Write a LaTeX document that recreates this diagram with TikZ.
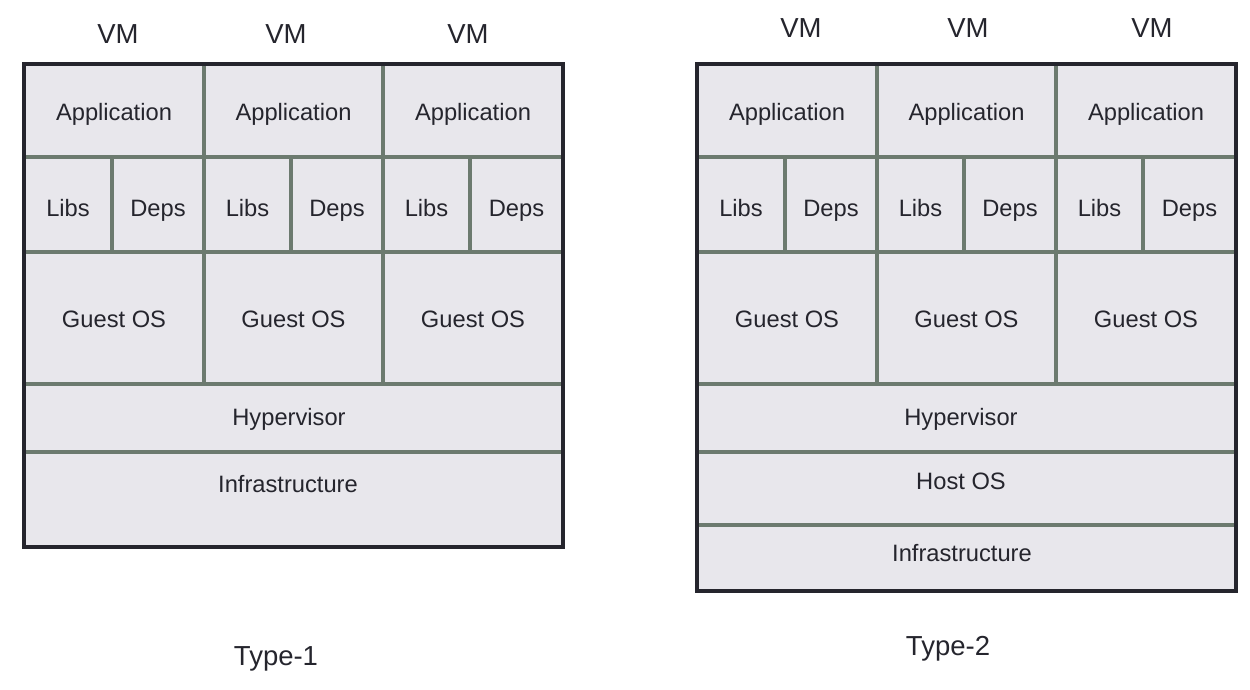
\documentclass[tikz,border=0pt]{standalone}
\usepackage{fontspec}
\setmainfont{Liberation Sans}
\definecolor{cellfill}{HTML}{E8E7EC}
\definecolor{cellline}{HTML}{6C7A6F}
\definecolor{frameline}{HTML}{25252D}
\definecolor{labeltext}{HTML}{25252D}
\begin{document}
\begin{tikzpicture}[x=1pt,y=-1pt,
        cell/.style={fill=cellfill,draw=cellline,line width=3.3pt},
        frame/.style={draw=frameline,line width=3.6pt},
        lbl/.style={anchor=base,inner sep=0pt,text=labeltext,font=\fontsize{23.7}{28}\selectfont},
        head/.style={anchor=base,inner sep=0pt,text=labeltext,font=\fontsize{27.5}{32}\selectfont}]
    \useasboundingbox (0,0) rectangle (1250,690);
    % type-1
    \foreach \a/\m/\b/\v/\n in {24/112/204/118/1,204/291/383/286/2,383/470/563/468/3} {
        \draw[cell] (\a,64) rectangle (\b,157);
        \draw[cell] (\a,157) rectangle (\m,252);
        \draw[cell] (\m,157) rectangle (\b,252);
        \draw[cell] (\a,252) rectangle (\b,384);
        \node[head] (vmA\n) at (\v,44) {VM};
        \node[lbl] (appA\n) at ({(\a+\b)/2},121) {Application};
        \node[lbl] (libsA\n) at ({(\a+\m)/2},216) {Libs};
        \node[lbl] (depsA\n) at ({(\m+\b)/2},216) {Deps};
        \node[lbl] (guestA\n) at ({(\a+\b)/2},327) {Guest OS};
    }
    \draw[cell] (24,384) rectangle (563,452);
    \draw[cell] (24,452) rectangle (563,547);
    \draw[frame] (24,64) rectangle (563,547);
    \node[lbl] (hypA) at (289,425) {Hypervisor};
    \node[lbl] (infraA) at (288,492) {Infrastructure};
    \node[head] (typeA) at (276,665) {Type-1};
    % type-2
    \foreach \a/\m/\b/\v/\n in {697/785/877/801/1,877/964/1056/968/2,1056/1143/1236/1152/3} {
        \draw[cell] (\a,64) rectangle (\b,157);
        \draw[cell] (\a,157) rectangle (\m,252);
        \draw[cell] (\m,157) rectangle (\b,252);
        \draw[cell] (\a,252) rectangle (\b,384);
        \node[head] (vmB\n) at (\v,38) {VM};
        \node[lbl] (appB\n) at ({(\a+\b)/2},121) {Application};
        \node[lbl] (libsB\n) at ({(\a+\m)/2},216) {Libs};
        \node[lbl] (depsB\n) at ({(\m+\b)/2},216) {Deps};
        \node[lbl] (guestB\n) at ({(\a+\b)/2},327) {Guest OS};
    }
    \draw[cell] (697,384) rectangle (1236,452);
    \draw[cell] (697,452) rectangle (1236,525);
    \draw[cell] (697,525) rectangle (1236,591);
    \draw[frame] (697,64) rectangle (1236,591);
    \node[lbl] (hypB) at (961,425) {Hypervisor};
    \node[lbl] (hostB) at (961,489) {Host OS};
    \node[lbl] (infraB) at (962,561) {Infrastructure};
    \node[head] (typeB) at (948,655) {Type-2};
\end{tikzpicture}
\end{document}
